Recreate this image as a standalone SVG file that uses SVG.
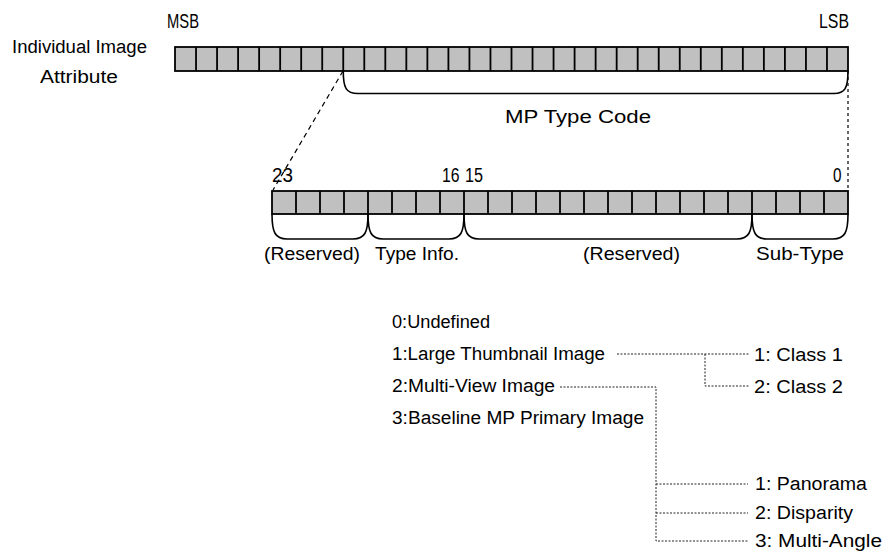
<svg xmlns="http://www.w3.org/2000/svg" width="883" height="556" viewBox="0 0 883 556">
<style>
text{font-family:"Liberation Sans",Arial,sans-serif;font-size:18px;fill:#000}
.cond{font-size:20px}
.bar{fill:#c0c0c0;stroke:#000;stroke-width:1.8}
.div{fill:none;stroke:#000;stroke-width:1.8}
.brk{fill:none;stroke:#000;stroke-width:1.6}
.dash{fill:none;stroke:#000;stroke-width:1.2;stroke-dasharray:5 4}
.dash2{fill:none;stroke:#000;stroke-width:1.2;stroke-dasharray:3 3}
.dot{fill:none;stroke:#222;stroke-width:1;stroke-dasharray:2 1.5}
</style>
<rect width="883" height="556" fill="#fff"/>

<g id="attribute-register">
<text x="12" y="53" textLength="135" lengthAdjust="spacingAndGlyphs">Individual Image</text>
<text x="40" y="83" textLength="78" lengthAdjust="spacingAndGlyphs">Attribute</text>
<text class="cond" x="167" y="28" textLength="32" lengthAdjust="spacingAndGlyphs">MSB</text>
<text class="cond" x="819" y="28" textLength="30" lengthAdjust="spacingAndGlyphs">LSB</text>
<rect class="bar" x="175" y="47" width="673" height="24"/>
<path class="div" d="M196.03,47V71M217.06,47V71M238.09,47V71M259.13,47V71M280.16,47V71M301.19,47V71M322.22,47V71M343.25,47V71M364.28,47V71M385.31,47V71M406.34,47V71M427.38,47V71M448.41,47V71M469.44,47V71M490.47,47V71M511.5,47V71M532.53,47V71M553.56,47V71M574.59,47V71M595.63,47V71M616.66,47V71M637.69,47V71M658.72,47V71M679.75,47V71M700.78,47V71M721.81,47V71M742.84,47V71M763.88,47V71M784.91,47V71M805.94,47V71M826.97,47V71"/>
</g>

<g id="mp-type-code">
<path class="brk" d="M343.25,71C343.25,88 346,93.5 358,93.5H834C845,93.5 848,88 848,71"/>
<text x="505" y="123" textLength="146" lengthAdjust="spacingAndGlyphs">MP Type Code</text>
</g>

<g id="type-code-register">
<text class="cond" x="272" y="182" textLength="21" lengthAdjust="spacingAndGlyphs">23</text>
<text class="cond" x="442" y="182" textLength="17.5" lengthAdjust="spacingAndGlyphs">16</text>
<text class="cond" x="465" y="182" textLength="18" lengthAdjust="spacingAndGlyphs">15</text>
<text class="cond" x="833" y="182" textLength="8.5" lengthAdjust="spacingAndGlyphs">0</text>
<rect class="bar" x="272" y="191" width="576" height="23"/>
<path class="div" d="M296,191V214M320,191V214M344,191V214M368,191V214M392,191V214M416,191V214M440,191V214M464,191V214M488,191V214M512,191V214M536,191V214M560,191V214M584,191V214M608,191V214M632,191V214M656,191V214M680,191V214M704,191V214M728,191V214M752,191V214M776,191V214M800,191V214M824,191V214"/>
</g>

<g id="field-reserved-high">
<path class="brk" d="M272,214C272,232 275,239 287,239H353C365,239 368,232 368,214"/>
<text x="264" y="260" textLength="96" lengthAdjust="spacingAndGlyphs">(Reserved)</text>
</g>
<g id="field-type-info">
<path class="brk" d="M368,214C368,232 371,239 383,239H449C461,239 464,232 464,214"/>
<text x="375" y="260" textLength="84" lengthAdjust="spacingAndGlyphs">Type Info.</text>
</g>
<g id="field-reserved-low">
<path class="brk" d="M464,214C464,232 467,239 479,239H737C749,239 752,232 752,214"/>
<text x="583" y="260" textLength="97" lengthAdjust="spacingAndGlyphs">(Reserved)</text>
</g>
<g id="field-sub-type">
<path class="brk" d="M752,214C752,232 755,239 767,239H833C845,239 848,232 848,214"/>
<text x="756" y="260" textLength="88" lengthAdjust="spacingAndGlyphs">Sub-Type</text>
</g>

<g id="type-list">
<text x="392" y="328" textLength="98" lengthAdjust="spacingAndGlyphs">0:Undefined</text>
<text x="392" y="360" textLength="213" lengthAdjust="spacingAndGlyphs">1:Large Thumbnail Image</text>
<text x="392" y="392" textLength="163" lengthAdjust="spacingAndGlyphs">2:Multi-View Image</text>
<text x="392" y="424" textLength="252" lengthAdjust="spacingAndGlyphs">3:Baseline MP Primary Image</text>
</g>

<g id="thumbnail-classes">
<text x="754" y="361" textLength="89" lengthAdjust="spacingAndGlyphs">1: Class 1</text>
<text x="754" y="393" textLength="89" lengthAdjust="spacingAndGlyphs">2: Class 2</text>
</g>

<g id="multiview-types">
<text x="755" y="490" textLength="112" lengthAdjust="spacingAndGlyphs">1: Panorama</text>
<text x="755" y="519" textLength="98" lengthAdjust="spacingAndGlyphs">2: Disparity</text>
<text x="755" y="547" textLength="127" lengthAdjust="spacingAndGlyphs">3: Multi-Angle</text>
</g>

<g id="connectors">
<path class="dash" d="M343,71L273,190"/>
<path class="dash2" d="M848,71V191"/>
<path class="dot" d="M617,354H750M705,354V386H750"/>
<path class="dot" d="M560,387H656V541H748M656,484H748M656,513H748"/>
</g>
</svg>
